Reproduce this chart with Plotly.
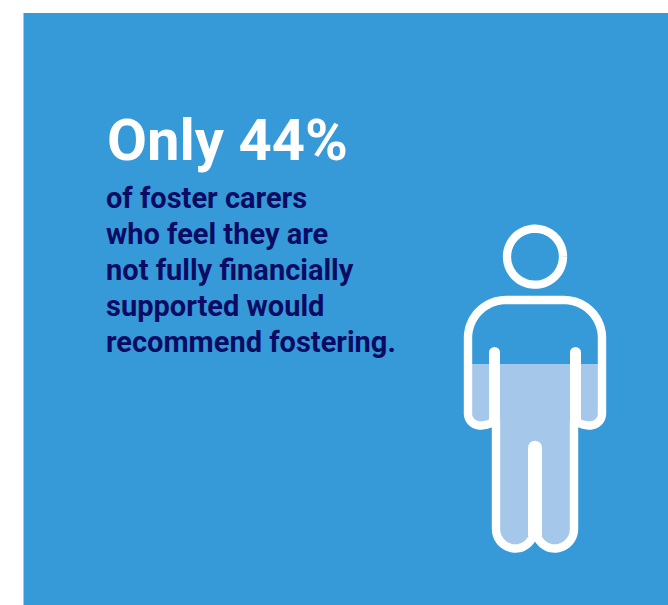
import numpy as np
import plotly.graph_objects as go

# Copy
headline = "Only 44%"
body_lines = [
    "of foster carers",
    "who feel they are",
    "not fully financially",
    "supported would",
    "recommend fostering.",
]
body_y = [198, 234, 270, 306, 342]
share_percent = 44

# Palette
PANEL = "#369AD8"
FILL = "#A4C7EA"
NAVY = "#0B0B63"
WHITE = "#FFFFFF"
TEXT_FONT = "Roboto"

AXIS_CENTRE = 535
FOOT_Y = 552
PX_PER_PERCENT = 188 / 44


def arc(cx, cy, r, a0, a1, n=24):
    a = np.radians(np.linspace(a0, a1, n))
    return np.column_stack([cx + r * np.cos(a), cy + r * np.sin(a)])


def quad(p0, p1, p2, n=14):
    t = np.linspace(0, 1, n)[:, None]
    p0, p1, p2 = map(np.array, (p0, p1, p2))
    return (1 - t) ** 2 * p0 + 2 * (1 - t) * t * p1 + t ** 2 * p2


def mirror(points):
    m = points[::-1].copy()
    m[:, 0] = 2 * AXIS_CENTRE - m[:, 0]
    return m


# Left half of the figure, from the neck round to the crotch
shoulder = np.vstack([[[AXIS_CENTRE, 300]], arc(506, 338, 38, 270, 180)])
arm_and_leg = np.vstack([
    arc(480, 413.5, 12, 180, 90),
    quad((480, 425.5), (489, 425.5), (496, 420)),
    arc(515.5, 529, 19.5, 180, 90),
    quad((515.5, 548.5), (528, 548.5), (AXIS_CENTRE, 533)),
])
left_half = np.vstack([shoulder, arm_and_leg])
outline = np.vstack([left_half, mirror(left_half)])

# The tinted part of the silhouette rises from the feet by the stated share
level = FOOT_Y - share_percent * PX_PER_PERCENT
left_fill = np.vstack([[[468, level]], arm_and_leg])
tint = np.vstack([left_fill, mirror(left_fill)])

fig = go.Figure()


def draw_line(points, width):
    fig.add_trace(go.Scatter(
        x=points[:, 0], y=points[:, 1], mode="lines",
        line=dict(color=WHITE, width=width, simplify=False), hoverinfo="skip",
    ))


def draw_stroke(x, y_top, y_bottom, width):
    # Vertical bar with a rounded upper end
    fig.add_trace(go.Scatter(
        x=[x, x], y=[y_top, y_bottom], mode="lines+markers",
        line=dict(color=WHITE, width=width, simplify=False),
        marker=dict(color=WHITE, size=[width, 0], line=dict(width=0), opacity=1),
        hoverinfo="skip",
    ))


fig.add_trace(go.Scatter(
    x=tint[:, 0], y=tint[:, 1], mode="lines", fill="toself",
    fillcolor=FILL, line=dict(width=0, simplify=False), hoverinfo="skip",
))
draw_line(outline, 8.4)
draw_line(arc(AXIS_CENTRE, 256.7, 28, 0, 360, 90), 8.3)
for x in (494.5, 2 * AXIS_CENTRE - 494.5):
    draw_stroke(x, 352.5, 425, 11)
draw_stroke(AXIS_CENTRE, 447.7, 536, 14)

annotations = [dict(
    x=105, y=140, text=headline, showarrow=False, xanchor="left", yanchor="middle",
    font=dict(family=TEXT_FONT, size=58, color=WHITE, weight=700),
)]
for line, y in zip(body_lines, body_y):
    annotations.append(dict(
        x=104, y=y, text=line, showarrow=False, xanchor="left", yanchor="middle",
        font=dict(family=TEXT_FONT, size=29, color=NAVY, weight=700),
    ))

fig.update_layout(
    width=668, height=605, autosize=False,
    margin=dict(l=0, r=0, t=0, b=0),
    paper_bgcolor=WHITE, plot_bgcolor=WHITE,
    showlegend=False,
    xaxis=dict(range=[0, 668], visible=False, fixedrange=True),
    yaxis=dict(range=[605, 0], visible=False, fixedrange=True),
    shapes=[dict(
        type="rect", xref="x", yref="y", x0=23.5, x1=668, y0=13, y1=605,
        fillcolor=PANEL, line=dict(width=0), layer="below",
    )],
    annotations=annotations,
)

fig.write_html("out.html", config=dict(displayModeBar=False))
